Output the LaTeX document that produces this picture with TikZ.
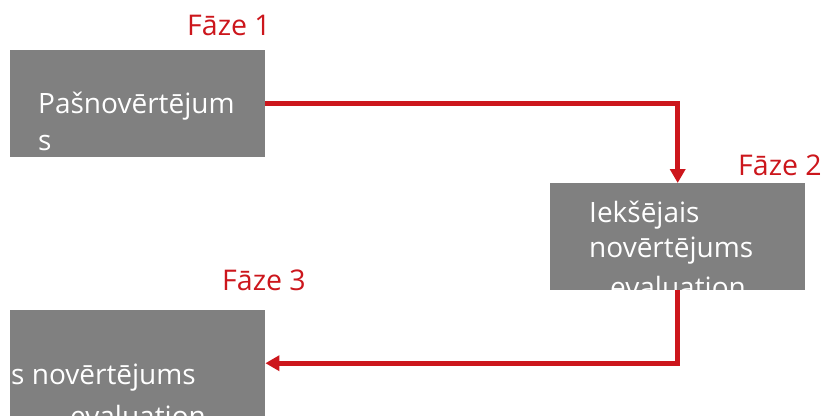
\documentclass[tikz,border=0pt]{standalone}
\usepackage{fontspec}
\setmainfont{Open Sans}
\usetikzlibrary{arrows.meta}
\definecolor{phasered}{RGB}{204,22,28}
\definecolor{boxgray}{RGB}{128,128,128}
\tikzset{
  box/.style={rectangle, fill=boxgray, draw=none, anchor=north west, inner sep=0pt, minimum width=255pt, minimum height=107pt},
  boxtxt/.style={anchor=base west, inner sep=0pt, text=white, font=\fontsize{28}{34}\selectfont},
  phase/.style={anchor=base west, inner sep=0pt, text=phasered, font=\fontsize{28.5}{34}\selectfont},
  arr/.style={draw=phasered, line width=5pt, -{Triangle[width=15pt,length=14pt]}}
}
\begin{document}
\begin{tikzpicture}[x=1pt,y=-1pt]
\useasboundingbox (0,0) rectangle (821,416);
\node[box] (b1) at (10,50) {};
\node[box] (b2) at (550,183) {};
\node[box, minimum height=106pt] (b3) at (10,310) {};
\begin{scope}
  \clip (b1.north west) rectangle (b1.south east);
  \node[boxtxt] (t1a) at (38,113) {Pašnovērtējum};
  \node[boxtxt] (t1b) at (38,150) {s};
\end{scope}
\begin{scope}
  \clip (b2.north west) rectangle (b2.south east);
  \node[boxtxt] (t2a) at (589,222) {Iekšējais};
  \node[boxtxt] (t2b) at (589,257) {novērtējums};
  \node[boxtxt] (t2c) at (610,297) {evaluation};
\end{scope}
\begin{scope}
  \clip (b3.north west) rectangle (b3.south east);
  \node[boxtxt] (t3a) at (11,384) {s novērtējums};
  \node[boxtxt] (t3b) at (70,426) {evaluation};
\end{scope}
\node[phase] (p1) at (187,35) {Fāze 1};
\node[phase] (p2) at (738,175) {Fāze 2};
\node[phase] (p3) at (222,290) {Fāze 3};
\draw[arr] (b1.east) -| (b2.north);
\draw[arr] (b2.south) |- (b3.east);
\end{tikzpicture}
\end{document}
